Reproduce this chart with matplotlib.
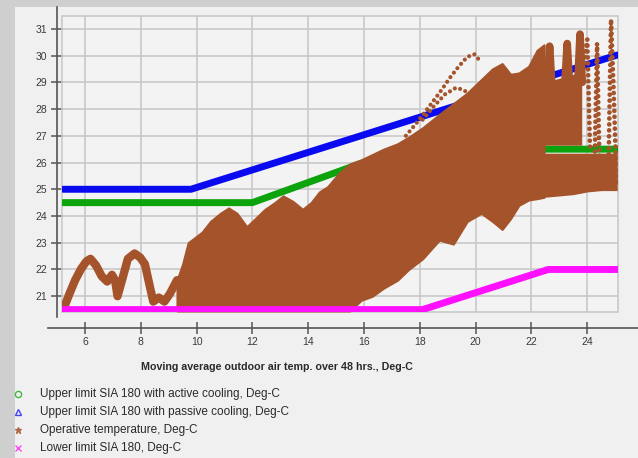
import matplotlib
matplotlib.use("Agg")
import matplotlib.pyplot as plt
from matplotlib.lines import Line2D
from matplotlib.patches import Rectangle
import numpy as np

plt.rcParams["font.family"] = ["Liberation Sans", "DejaVu Sans"]

# ---- SIA 180 comfort limits (breakpoints) ----
active_x = [5.22, 12.0, 17.3, 25.07]
active_y = [24.5, 24.5, 26.5, 26.5]
passive_x = [5.22, 9.8, 25.07]
passive_y = [25.0, 25.0, 30.02]
lower_x = [5.22, 18.1, 22.6, 25.07]
lower_y = [20.5, 20.5, 22.0, 22.0]

# ---- operative temperature: early trajectory (spring humps) ----
hump_x = [5.30, 5.45, 5.65, 5.85, 6.05, 6.20, 6.40, 6.60, 6.80, 6.97, 7.08,
          7.17, 7.33, 7.54, 7.78, 7.98, 8.15, 8.33, 8.45, 8.65, 8.85, 9.05, 9.30]
hump_y = [20.70, 21.10, 21.60, 22.00, 22.30, 22.40, 22.15, 21.75, 21.55, 21.80, 21.60,
          21.00, 21.60, 22.40, 22.60, 22.45, 22.20, 21.35, 20.80, 20.95, 20.80, 21.10, 21.60]

# ---- operative temperature: dense cloud envelope ----
cloud_x = [9.30, 9.50, 9.70, 9.95, 10.20, 10.50, 10.85, 11.15, 11.45, 11.80,
           12.10, 12.45, 12.80, 13.10, 13.45, 13.80, 14.10, 14.40, 14.70, 15.10,
           15.50, 15.90, 16.30, 16.70, 17.20, 17.60, 18.10, 18.70, 19.20, 19.70,
           20.20, 20.60, 20.95, 21.25, 21.55, 21.90, 22.20, 22.45]
cloud_hi = [21.60, 22.20, 23.00, 23.20, 23.40, 23.80, 24.10, 24.30, 24.10, 23.60,
            23.90, 24.25, 24.50, 24.75, 24.55, 24.25, 24.50, 24.90, 25.10, 25.60,
            25.95, 26.10, 26.30, 26.50, 26.70, 26.95, 27.30, 27.80, 28.20, 28.60,
            29.10, 29.50, 29.70, 29.30, 29.35, 29.60, 30.20, 30.40]
cloud_lo = [20.45, 20.45, 20.45, 20.45, 20.45, 20.45, 20.45, 20.45, 20.45, 20.45,
            20.45, 20.45, 20.45, 20.45, 20.45, 20.45, 20.45, 20.45, 20.45, 20.45,
            20.45, 20.85, 21.00, 21.30, 21.60, 22.00, 22.40, 23.10, 22.95, 23.80,
            24.10, 23.80, 23.50, 23.90, 24.40, 24.60, 24.65, 24.70]

# warm-end bands either side of the active-cooling limit
band_lo_x = [22.45, 23.00, 23.50, 24.00, 24.50, 25.07]
band_lo_bottom = [24.70, 24.75, 24.80, 24.90, 24.95, 24.95]
band_lo_top = [26.35, 26.35, 26.35, 26.35, 26.35, 26.35]
band_hi_x = [22.45, 23.00, 23.50, 23.80]
band_hi_bottom = [26.65, 26.65, 26.65, 26.65]
band_hi_top = [29.00, 29.15, 29.30, 29.40]

# excursions above the cloud
arc_outer_x = [17.5, 17.9, 18.3, 18.7, 19.1, 19.4, 19.7, 19.95, 20.2]
arc_outer_y = [27.0, 27.5, 28.05, 28.6, 29.2, 29.6, 29.95, 30.05, 29.75]
arc_inner_x = [18.1, 18.5, 18.9, 19.3, 19.6, 19.85]
arc_inner_y = [27.6, 28.1, 28.55, 28.8, 28.7, 28.4]
peak_x = [22.57, 22.65, 22.73, np.nan, 23.20, 23.28, 23.36, np.nan, 23.66, 23.74, 23.82]
peak_y = [28.9, 30.35, 28.9, np.nan, 29.0, 30.45, 29.0, np.nan, 29.0, 30.80, 29.0]
column_x = [23.85, 24.0, 24.1, np.nan, 24.25, 24.35, 24.45, np.nan, 24.75, 24.85, 24.95, 25.05]
column_y = [29.5, 30.6, 26.4, np.nan, 25.3, 30.45, 25.3, np.nan, 25.2, 31.35, 28.5, 25.2]

# ---- ticks and labels ----
x_ticks = [6, 8, 10, 12, 14, 16, 18, 20, 22, 24]
y_ticks = [21, 22, 23, 24, 25, 26, 27, 28, 29, 30, 31]
x_label = "Moving average outdoor air temp. over 48 hrs., Deg-C"
legend_labels = ["Upper limit SIA 180 with active cooling, Deg-C",
                 "Upper limit SIA 180 with passive cooling, Deg-C",
                 "Operative temperature, Deg-C",
                 "Lower limit SIA 180, Deg-C"]

GREEN = "#0ca30c"
BLUE = "#0a0af0"
BROWN = "#a5532b"
MAGENTA = "#ff10ff"

W, H = 638, 458
fig = plt.figure(figsize=(W / 100, H / 100), dpi=100, facecolor="#cfcfcf")
fig.patches.append(Rectangle((15 / W, 0), 1 - 15 / W, 1 - 7 / H, transform=fig.transFigure,
                             facecolor="#f0f0f0", edgecolor="none", zorder=-10))

ax = fig.add_axes([62 / W, 1 - 312 / H, (618 - 62) / W, (312 - 16) / H])
ax.set_zorder(2)
ax.set_facecolor("#f3f3f3")
ax.set_xlim(5.18, 25.1)
ax.set_ylim(20.41, 31.48)
ax.set_axisbelow(True)
ax.grid(True, color="#c9c9c9", lw=1.2)
ax.add_patch(Rectangle((0, 0), 1, 1, transform=ax.transAxes, fill=False,
                       edgecolor="#c9c9c9", lw=1.2, clip_on=False, zorder=1))

for s in ("top", "right"):
    ax.spines[s].set_visible(False)
ax.spines["left"].set_position(("outward", 3.6))
ax.spines["bottom"].set_position(("outward", 11.5))
ax.spines["left"].set_bounds(20.22, 31.82)
ax.spines["bottom"].set_bounds(4.68, 25.82)
for s in ("left", "bottom"):
    ax.spines[s].set_color("#555555")
    ax.spines[s].set_linewidth(1.2)

ax.set_xticks(x_ticks)
ax.set_yticks(y_ticks)
ax.tick_params(direction="inout", length=8.6, width=1.1, color="#555555",
               labelsize=7.5, labelcolor="#3a3a3a", pad=2.5)

# limit lines
ax.plot(active_x, active_y, color=GREEN, lw=5, solid_capstyle="round", zorder=2)
ax.plot(passive_x, passive_y, color=BLUE, lw=5, solid_capstyle="round", zorder=2)

# operative temperature
ax.plot(hump_x, hump_y, color=BROWN, lw=6, solid_capstyle="round",
        solid_joinstyle="round", zorder=3)
ax.fill_between(cloud_x, cloud_lo, cloud_hi, color=BROWN, lw=1.5, edgecolor=BROWN, zorder=3)
ax.fill_between(band_lo_x, band_lo_bottom, band_lo_top, color=BROWN, lw=0, zorder=3)
ax.fill_between(band_hi_x, band_hi_bottom, band_hi_top, color=BROWN, lw=0, zorder=3)
for xs, ys in ((arc_outer_x, arc_outer_y), (arc_inner_x, arc_inner_y)):
    ax.plot(xs, ys, color=BROWN, lw=3.0, ls=(0, (0.01, 1.35)), dash_capstyle="round", zorder=3)
ax.plot(peak_x, peak_y, color=BROWN, lw=5.5, solid_joinstyle="round",
        solid_capstyle="round", zorder=3)
ax.plot(column_x, column_y, color=BROWN, lw=3.4, ls=(0, (0.01, 1.25)), dash_capstyle="round",
        zorder=3)

ax.plot(lower_x, lower_y, color=MAGENTA, lw=5, solid_capstyle="round", zorder=4)

fig.text(277 / W, 1 - 367 / H, x_label, ha="center", va="center", fontsize=7.7,
         weight="bold", color="#2a2a2a")

# legend
markers = [("o", GREEN, "none"), ("^", BLUE, "none"), ("*", BROWN, BROWN), ("x", MAGENTA, MAGENTA)]
rows = [394, 412, 429.5, 447.5]
for (m, c, fc), lab, r in zip(markers, legend_labels, rows):
    fig.add_artist(Line2D([18 / W], [1 - r / H], marker=m, color=c, mfc=fc, ms=4.5, mew=1.0,
                          ls="none", alpha=0.75, transform=fig.transFigure))
    fig.text(40 / W, 1 - r / H, lab, ha="left", va="center", fontsize=8.5, color="#2a2a2a")

fig.savefig("out.png", dpi=100, facecolor=fig.get_facecolor())
